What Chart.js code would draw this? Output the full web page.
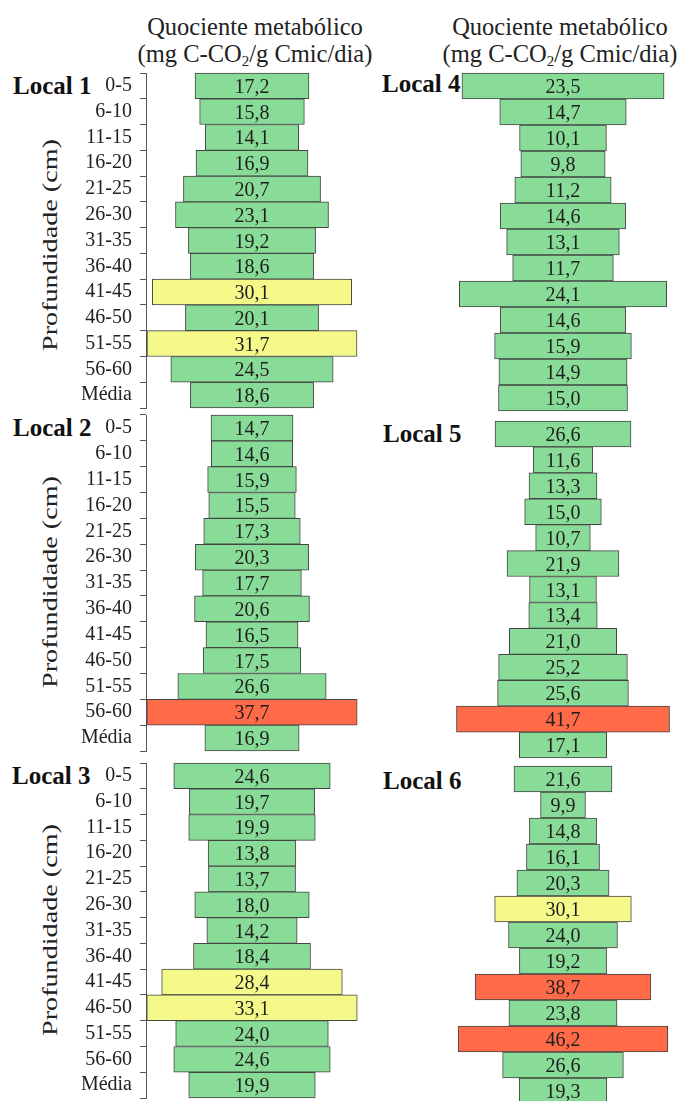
<!DOCTYPE html>
<html>
<head>
<meta charset="utf-8">
<script src="https://cdn.jsdelivr.net/npm/chart.js@4/dist/chart.umd.min.js"></script>
<style>
  html, body { margin:0; padding:0; background:#fff; }
  body { width:686px; height:1101px; position:relative; overflow:hidden; font-family:"Liberation Serif","Times New Roman",serif; color:#222; }
  canvas { position:absolute; }
  .title { position:absolute; width:300px; text-align:center; font-size:24.5px; line-height:27px; white-space:nowrap; }
  .title sub { font-size:15px; line-height:0; vertical-align:-4px; }
  .local { position:absolute; font-weight:bold; font-size:25px; line-height:25px; white-space:nowrap; color:#111; }
  .ytitle { position:absolute; font-size:22px; line-height:22px; white-space:nowrap; transform-origin:center center; }
</style>
</head>
<body>
<div class="title" style="left:105px; top:13px;">Quociente metabólico<br>(mg C-CO<sub>2</sub>/g Cmic/dia)</div>
<div class="title" style="left:410px; top:13px;">Quociente metabólico<br>(mg C-CO<sub>2</sub>/g Cmic/dia)</div>

<div class="local" style="left:13px; top:73px;">Local 1</div>
<div class="local" style="left:13px; top:415px;">Local 2</div>
<div class="local" style="left:12px; top:763px;">Local 3</div>
<div class="local" style="left:382px; top:71px;">Local 4</div>
<div class="local" style="left:383px; top:421px;">Local 5</div>
<div class="local" style="left:383px; top:768px;">Local 6</div>

<div class="ytitle" id="yt1">Profundidade (cm)</div>
<div class="ytitle" id="yt2">Profundidade (cm)</div>
<div class="ytitle" id="yt3">Profundidade (cm)</div>

<canvas id="c1" width="370" height="337" style="left:0px; top:72px;"></canvas>
<canvas id="c2" width="370" height="338" style="left:0px; top:414px;"></canvas>
<canvas id="c3" width="370" height="337" style="left:0px; top:762px;"></canvas>
<canvas id="c4" width="214" height="340" style="left:456px; top:72px;"></canvas>
<canvas id="c5" width="214" height="339" style="left:456px; top:420px;"></canvas>
<canvas id="c6" width="214" height="340" style="left:456px; top:765px;"></canvas>

<script>
// ---- data ----
const depthLabels = ["0-5","6-10","11-15","16-20","21-25","26-30","31-35","36-40","41-45","46-50","51-55","56-60","Média"];
const local1 = [17.2, 15.8, 14.1, 16.9, 20.7, 23.1, 19.2, 18.6, 30.1, 20.1, 31.7, 24.5, 18.6];
const local2 = [14.7, 14.6, 15.9, 15.5, 17.3, 20.3, 17.7, 20.6, 16.5, 17.5, 26.6, 37.7, 16.9];
const local3 = [24.6, 19.7, 19.9, 13.8, 13.7, 18.0, 14.2, 18.4, 28.4, 33.1, 24.0, 24.6, 19.9];
const local4 = [23.5, 14.7, 10.1, 9.8, 11.2, 14.6, 13.1, 11.7, 24.1, 14.6, 15.9, 14.9, 15.0];
const local5 = [26.6, 11.6, 13.3, 15.0, 10.7, 21.9, 13.1, 13.4, 21.0, 25.2, 25.6, 41.7, 17.1];
const local6 = [21.6, 9.9, 14.8, 16.1, 20.3, 30.1, 24.0, 19.2, 38.7, 23.8, 46.2, 26.6, 19.3];
// half-range of each panel's value axis
const axisHalf = [16.0, 19.0, 16.67, 12.44, 20.94, 23.57];

const GREEN = '#88dc98', YELLOW = '#f5f98a', RED = '#ff6a48';
function colorFor(v){ return v >= 35 ? RED : (v >= 28 ? YELLOW : GREEN); }
function fmt(v){ return v.toFixed(1).replace('.', ','); }

const valueLabels = {
  id:'valueLabels',
  afterDatasetsDraw(chart){
    const ctx = chart.ctx;
    const vals = chart.data.datasets[0].rawValues;
    const xs = chart.scales.x;
    const cx = xs.getPixelForValue(0);
    ctx.save();
    ctx.font = '20px "Liberation Serif", "Times New Roman", serif';
    ctx.fillStyle = '#1e1e1e';
    ctx.textAlign = 'center';
    ctx.textBaseline = 'alphabetic';
    chart.getDatasetMeta(0).data.forEach((bar, i) => {
      ctx.fillText(fmt(vals[i]), cx, bar.y + 7);
    });
    ctx.restore();
  }
};

function makeChart(id, values, half, showAxis){
  const yScale = {
    display: showAxis,
    grid:{ offset:true, drawOnChartArea:false, drawTicks:true, tickLength:6, color:'#555', lineWidth:1 },
    border:{ display:true, color:'#555', width:1 },
    ticks:{ font:{family:'"Liberation Serif", "Times New Roman", serif', size:20}, color:'#222', padding:8, autoSkip:false }
  };
  if (showAxis) {
    yScale.afterFit = s => { s.width = 146; s.paddingTop = 0; s.paddingBottom = 0; };
  }
  const cfg = {
    type:'bar',
    data:{
      labels: depthLabels,
      datasets:[{
        data: values.map(v => [-v/2, v/2]),
        rawValues: values,
        backgroundColor: values.map(colorFor),
        borderColor:'#454545',
        borderWidth:1,
        borderSkipped:false,
        categoryPercentage:1,
        barPercentage:1,
        clip:false
      }]
    },
    options:{
      indexAxis:'y',
      responsive:false,
      animation:false,
      events:[],
      layout:{ padding: showAxis ? {top:1,bottom:1,left:0,right:12} : {top:1,bottom:1,left:0,right:0} },
      plugins:{ legend:{display:false}, tooltip:{enabled:false}, title:{display:false} },
      scales:{
        x:{ display:false, min:-half, max:half },
        y: yScale
      }
    },
    plugins:[valueLabels]
  };
  return new Chart(document.getElementById(id), cfg);
}

makeChart('c1', local1, axisHalf[0], true);
makeChart('c2', local2, axisHalf[1], true);
makeChart('c3', local3, axisHalf[2], true);
makeChart('c4', local4, axisHalf[3], false);
makeChart('c5', local5, axisHalf[4], false);
makeChart('c6', local6, axisHalf[5], false);

// rotated axis titles
[['yt1',50,245],['yt2',50,582],['yt3',50,930]].forEach(([id,cx,cy])=>{
  const el = document.getElementById(id);
  const w = el.offsetWidth, h = el.offsetHeight;
  el.style.left = (cx - w/2) + 'px';
  el.style.top = (cy - h/2) + 'px';
  el.style.transform = 'rotate(-90deg) scale(1.28,1)';
});
</script>
</body>
</html>
